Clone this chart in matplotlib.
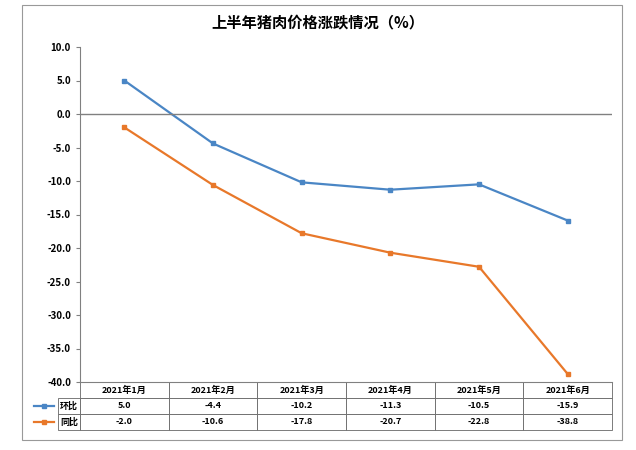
import matplotlib
matplotlib.use("Agg")
import matplotlib.pyplot as plt
from matplotlib.lines import Line2D
from matplotlib.patches import Rectangle

plt.rcParams["font.family"] = ["Noto Sans CJK SC", "DejaVu Sans"]

months = ["2021年1月", "2021年2月", "2021年3月", "2021年4月", "2021年5月", "2021年6月"]
huanbi = [5.0, -4.4, -10.2, -11.3, -10.5, -15.9]
tongbi = [-2.0, -10.6, -17.8, -20.7, -22.8, -38.8]
series_names = ["环比", "同比"]
colors = ["#4A86C5", "#E8782A"]
yticks = [10.0, 5.0, 0.0, -5.0, -10.0, -15.0, -20.0, -25.0, -30.0, -35.0, -40.0]

W, H = 636, 450
fig = plt.figure(figsize=(W/100, H/100), dpi=100)
fig.patches.append(Rectangle((22/W, 1-440/H), 600/W, 435/H, transform=fig.transFigure,
                             fill=False, edgecolor="#999999", lw=0.8))
ax = fig.add_axes([80/W, 1-382/H, 532/W, 335/H])
x = list(range(len(months)))
for vals, c in zip([huanbi, tongbi], colors):
    ax.plot(x, vals, color=c, lw=1.6, marker="s", ms=3.5)
ax.axhline(0, color="#808080", lw=1)
ax.set_xlim(-0.5, len(months)-0.5)
ax.set_ylim(-40, 10)
ax.set_yticks(yticks)
ax.set_yticklabels([f"{v:.1f}" for v in yticks], fontsize=7, fontweight="bold")
ax.set_xticks([])
for s in ["top", "right"]:
    ax.spines[s].set_visible(False)
ax.spines["left"].set_color("#808080")
ax.spines["bottom"].set_color("#808080")
ax.tick_params(axis="y", length=3, color="#808080")
fig.text(0.5, 1-22/H, "上半年猪肉价格涨跌情况（%）", ha="center", va="center",
         fontsize=11, fontweight="bold")

cells = [[f"{v:.1f}" for v in huanbi], [f"{v:.1f}" for v in tongbi]]
tab = ax.table(cellText=cells, colLabels=months, rowLabels=series_names,
               cellLoc="center", rowLoc="right",
               bbox=[0, -48/335, 1, 48/335])
tab.auto_set_font_size(False)
tab.set_fontsize(6.5)
for (r, c), cell in tab.get_celld().items():
    cell.set_edgecolor("#666666")
    cell.set_linewidth(0.6)
    cell.get_text().set_fontweight("bold")
    if c == -1:
        cell.set_width(52/532)
for i, c in enumerate(colors):
    yy = 1-(406+16*i)/H
    fig.add_artist(Line2D([34/W, 44/W, 54/W], [yy, yy, yy], color=c, lw=1.6, marker="s", ms=3,
                          markevery=[1], transform=fig.transFigure))
fig.savefig("out.png", dpi=100)
